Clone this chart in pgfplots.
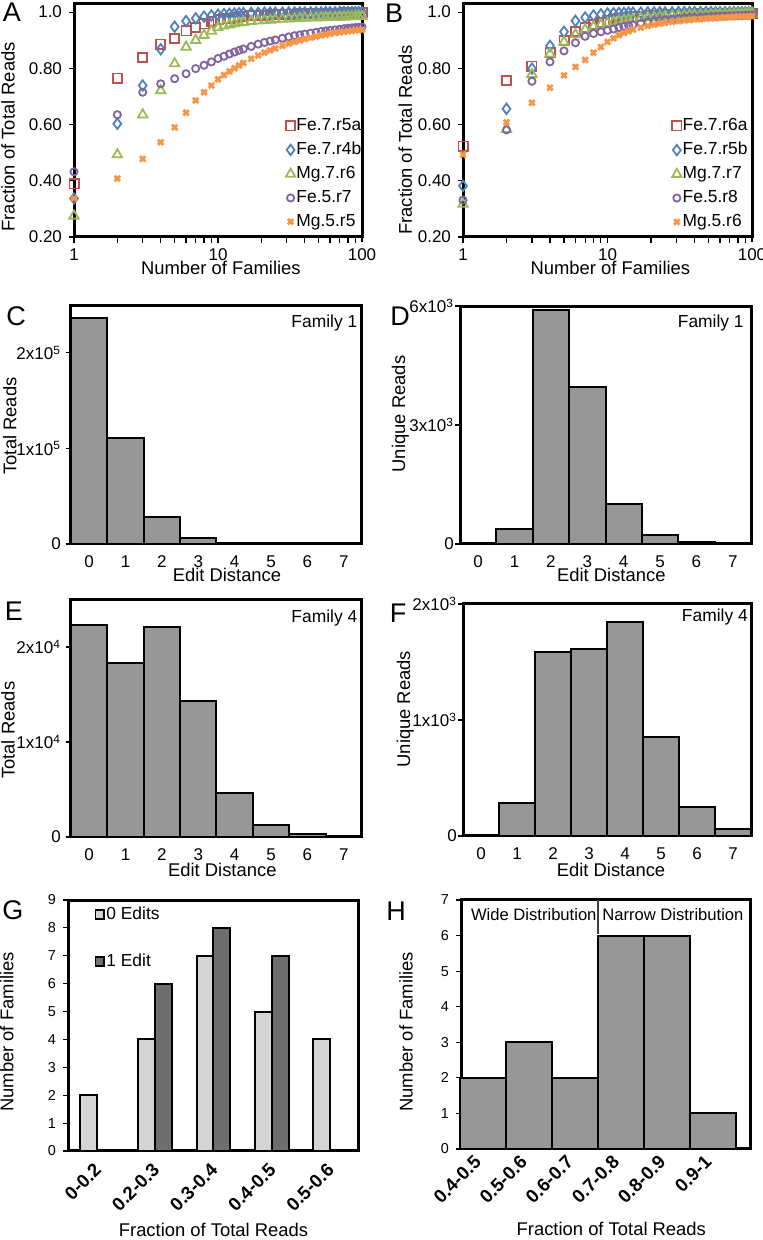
\documentclass[border=0pt]{standalone}
\usepackage{fontspec}
\setmainfont{Liberation Sans}
\usepackage{pgfplots}
\pgfplotsset{compat=1.18}
\usepackage{pgfplotstable}

\definecolor{exRed}{HTML}{C0504D}
\definecolor{exBlue}{HTML}{4F81BD}
\definecolor{exGreen}{HTML}{9BBB59}
\definecolor{exPurple}{HTML}{8064A2}
\definecolor{exOrange}{HTML}{F79646}
\definecolor{barGray}{RGB}{150,150,150}
\definecolor{lightBar}{RGB}{212,212,212}
\definecolor{darkBar}{RGB}{110,110,110}

% cumulative fraction of reads, panel A (n = number of families)
\pgfplotstableread{
n   r     b     g     p     o
1   0.389 0.337 0.275 0.432 0.337
2   0.765 0.603 0.493 0.635 0.408
3   0.838 0.739 0.635 0.715 0.478
4   0.886 0.868 0.721 0.745 0.537
5   0.906 0.948 0.817 0.763 0.590
6   0.933 0.968 0.876 0.781 0.642
7   0.945 0.978 0.900 0.799 0.686
8   0.958 0.984 0.918 0.811 0.715
9   0.966 0.988 0.933 0.823 0.739
10  0.972 0.991 0.945 0.835 0.761
11  0.976 0.993 0.951 0.843 0.776
12  0.979 0.994 0.955 0.851 0.789
13  0.981 0.995 0.959 0.858 0.800
14  0.983 0.996 0.962 0.864 0.810
15  0.985 0.996 0.964 0.869 0.819
17  0.987 0.997 0.967 0.878 0.834
19  0.988 0.997 0.969 0.886 0.846
21  0.989 0.998 0.971 0.892 0.856
23  0.990 0.998 0.972 0.897 0.864
25  0.991 0.998 0.974 0.901 0.871
28  0.992 0.998 0.975 0.907 0.880
31  0.993 0.999 0.976 0.912 0.888
34  0.993 0.999 0.977 0.916 0.894
37  0.994 0.999 0.978 0.919 0.899
40  0.994 0.999 0.979 0.922 0.904
44  0.995 0.999 0.980 0.925 0.909
48  0.995 0.999 0.980 0.928 0.913
52  0.995 0.999 0.981 0.931 0.917
56  0.996 1.000 0.981 0.933 0.920
60  0.996 1.000 0.982 0.935 0.923
65  0.996 1.000 0.982 0.937 0.926
70  0.996 1.000 0.983 0.939 0.928
75  0.997 1.000 0.983 0.941 0.930
80  0.997 1.000 0.984 0.943 0.932
85  0.997 1.000 0.984 0.944 0.934
90  0.997 1.000 0.984 0.945 0.935
95  0.997 1.000 0.985 0.946 0.936
100 0.997 1.000 0.985 0.947 0.937
}\tabA

% panel B
\pgfplotstableread{
n   r     b     g     p     o
1   0.523 0.382 0.317 0.331 0.493
2   0.757 0.656 0.583 0.581 0.608
3   0.808 0.799 0.779 0.754 0.677
4   0.856 0.880 0.852 0.823 0.731
5   0.898 0.930 0.894 0.862 0.775
6   0.930 0.969 0.920 0.891 0.805
7   0.945 0.981 0.938 0.914 0.830
8   0.955 0.988 0.948 0.924 0.856
9   0.963 0.992 0.955 0.930 0.876
10  0.969 0.995 0.961 0.935 0.894
11  0.973 0.996 0.965 0.940 0.907
12  0.977 0.997 0.969 0.945 0.918
13  0.979 0.997 0.972 0.949 0.926
14  0.981 0.998 0.974 0.952 0.932
15  0.983 0.998 0.976 0.955 0.938
17  0.985 0.998 0.979 0.960 0.945
19  0.987 0.999 0.981 0.964 0.951
21  0.988 0.999 0.983 0.967 0.955
23  0.989 0.999 0.984 0.970 0.959
25  0.990 0.999 0.985 0.972 0.962
28  0.991 0.999 0.987 0.975 0.965
31  0.992 1.000 0.988 0.977 0.968
34  0.992 1.000 0.989 0.979 0.970
37  0.993 1.000 0.990 0.980 0.972
40  0.993 1.000 0.990 0.981 0.974
44  0.994 1.000 0.991 0.982 0.975
48  0.994 1.000 0.991 0.983 0.977
52  0.994 1.000 0.992 0.984 0.978
56  0.995 1.000 0.992 0.985 0.979
60  0.995 1.000 0.993 0.986 0.980
65  0.995 1.000 0.993 0.986 0.981
70  0.995 1.000 0.993 0.987 0.982
75  0.996 1.000 0.994 0.987 0.983
80  0.996 1.000 0.994 0.988 0.984
85  0.996 1.000 0.994 0.988 0.984
90  0.996 1.000 0.995 0.989 0.985
95  0.996 1.000 0.995 0.989 0.985
100 0.996 1.000 0.995 0.990 0.986
}\tabB

\newcommand\tkfont{\fontsize{8.5}{10}\selectfont}
\newcommand\lbfont{\fontsize{9.2}{11}\selectfont}
\newcommand\lgfont{\fontsize{8.7}{9}\selectfont}
\newcommand\panelfont{\fontsize{13.5}{14}\selectfont}

\tikzset{fam/.style={font=\lgfont, anchor=east, inner sep=0pt}}

\pgfplotsset{
  panelbase/.style={
    scale only axis, anchor=south west, clip=false,
    axis line style={line width=1.5pt},
    tick align=outside, xtick pos=bottom, ytick pos=left,
    major tick length=2.5pt, tick style={black, line width=0.6pt},
    ticklabel style={font=\tkfont},
    label style={font=\lbfont},
    scaled y ticks=false,
  },
  cumpanel/.style={
    xmin=1, xmax=100, ymin=0.2, ymax=1.029,
    xtick={1,10,100}, xticklabels={1,10,100},
    ytick={0.2,0.4,0.6,0.8,1.0}, yticklabels={0.20,0.40,0.60,0.80,1.0},
    xlabel={Number of Families}, ylabel={Fraction of Total Reads},
    legend cell align=left,
    legend style={draw=none, fill=none, font=\lgfont, inner sep=0pt,
      row sep=3.2pt, nodes={inner sep=0.6pt}},
  },
  histpanel/.style={
    ybar, bar width=1, xmin=-0.5, xmax=7.5, ymin=0,
    xtick={0,...,7}, xticklabels={0,1,2,3,4,5,6,7},
    xtick style={draw=none}, xlabel={Edit Distance},
  },
  hbar/.style={fill=barGray, draw=black, line width=1pt},
  sR/.style={only marks, exRed, mark=square, mark size=2.3pt, line width=0.9pt},
  sB/.style={only marks, exBlue, mark=diamond, mark size=2.6pt, line width=0.9pt},
  sG/.style={only marks, exGreen, mark=triangle, mark size=2.7pt, line width=0.9pt},
  sP/.style={only marks, exPurple, mark=o, mark size=1.8pt, line width=0.9pt},
  sO/.style={only marks, exOrange, mark=x, mark size=1.9pt, line width=1.4pt},
}

\begin{document}
\begin{tikzpicture}
\useasboundingbox (0,0) rectangle (381pt,620pt);

% ---- A
\begin{axis}[xmode=log, panelbase, cumpanel, at={(37pt,501.5pt)}, width=144pt, height=116.5pt,
  ylabel style={at={(axis description cs:-0.229,0.43)}, anchor=center},
  xlabel style={at={(axis description cs:0.51,-0.133)}, anchor=center},
  legend image code/.code={\draw[#1] plot coordinates {(2pt,0pt)};},
  legend style={at={(rel axis cs:1.003,0.516)}, anchor=north east}]
\addplot[sR] table[x=n,y=r] {\tabA}; \addlegendentry{Fe.7.r5a}
\addplot[sB] table[x=n,y=b] {\tabA}; \addlegendentry{Fe.7.r4b}
\addplot[sG] table[x=n,y=g] {\tabA}; \addlegendentry{Mg.7.r6}
\addplot[sP] table[x=n,y=p] {\tabA}; \addlegendentry{Fe.5.r7}
\addplot[sO] table[x=n,y=o] {\tabA}; \addlegendentry{Mg.5.r5}
\end{axis}

% ---- B
\begin{axis}[xmode=log, panelbase, cumpanel, at={(231.5pt,501.5pt)}, width=144.5pt, height=116.5pt,
  ylabel style={at={(axis description cs:-0.20,0.416)}, anchor=center},
  xlabel style={at={(axis description cs:0.51,-0.133)}, anchor=center},
  legend image code/.code={\draw[#1] plot coordinates {(2pt,0pt)};},
  legend style={at={(rel axis cs:0.99,0.516)}, anchor=north east}]
\addplot[sR] table[x=n,y=r] {\tabB}; \addlegendentry{Fe.7.r6a}
\addplot[sB] table[x=n,y=b] {\tabB}; \addlegendentry{Fe.7.r5b}
\addplot[sG] table[x=n,y=g] {\tabB}; \addlegendentry{Mg.7.r7}
\addplot[sP] table[x=n,y=p] {\tabB}; \addlegendentry{Fe.5.r8}
\addplot[sO] table[x=n,y=o] {\tabB}; \addlegendentry{Mg.5.r6}
\end{axis}

% ---- C
\begin{axis}[panelbase, histpanel, at={(35.5pt,348pt)}, width=145.5pt, height=119pt,
  ymax=249000, ytick={0,100000,200000},
  yticklabels={0,1x10\textsuperscript{5},2x10\textsuperscript{5}},
  yticklabel style={xshift=1pt},
  ylabel={Total Reads},
  ylabel style={at={(axis description cs:-0.21,0.496)}, anchor=center},
  xlabel style={at={(axis description cs:0.536,-0.13)}, anchor=center}]
\addplot[hbar] coordinates {(0,236000)(1,111000)(2,28000)(3,6600)(4,1500)(5,500)(6,150)(7,50)};
\node[fam] at (rel axis cs:0.985,0.93) {Family 1};
\end{axis}

% ---- D
\begin{axis}[panelbase, histpanel, at={(230pt,348pt)}, width=145.5pt, height=119pt,
  ymax=6000, ytick={0,3000,6000},
  yticklabels={0,3x10\textsuperscript{3},6x10\textsuperscript{3}},
  yticklabel style={xshift=3pt},
  ylabel={Unique Reads},
  ylabel style={at={(axis description cs:-0.205,0.546)}, anchor=center},
  xlabel style={at={(axis description cs:0.52,-0.13)}, anchor=center}]
\addplot[hbar] coordinates {(1,380)(2,5900)(3,3960)(4,1010)(5,230)(6,60)(7,10)};
\node[fam] at (rel axis cs:0.976,0.93) {Family 1};
\end{axis}

% ---- E
\begin{axis}[panelbase, histpanel, at={(35.5pt,201.5pt)}, width=145.5pt, height=118.5pt,
  ymax=24950, ytick={0,10000,20000},
  yticklabels={0,1x10\textsuperscript{4},2x10\textsuperscript{4}},
  yticklabel style={xshift=1pt},
  ylabel={Total Reads},
  ylabel style={at={(axis description cs:-0.216,0.45)}, anchor=center},
  xlabel style={at={(axis description cs:0.52,-0.14)}, anchor=center}]
\addplot[hbar] coordinates {(0,22300)(1,18300)(2,22100)(3,14300)(4,4600)(5,1260)(6,300)(7,50)};
\node[fam] at (rel axis cs:0.985,0.924) {Family 4};
\end{axis}

% ---- F
\begin{axis}[panelbase, histpanel, at={(231.5pt,202pt)}, width=144pt, height=116pt,
  ymax=2000, ytick={0,1000,2000},
  yticklabels={0,1x10\textsuperscript{3},2x10\textsuperscript{3}},
  yticklabel style={xshift=3pt},
  ylabel={Unique Reads},
  ylabel style={at={(axis description cs:-0.2,0.547)}, anchor=center},
  xlabel style={at={(axis description cs:0.514,-0.147)}, anchor=center}]
\addplot[hbar] coordinates {(1,285)(2,1586)(3,1612)(4,1845)(5,853)(6,250)(7,60)};
\node[fam] at (rel axis cs:0.99,0.944) {Family 4};
\end{axis}

% ---- G
\begin{axis}[panelbase, at={(34pt,44.5pt)}, width=145.5pt, height=125.5pt,
  ybar, bar width=0.29, bar shift=0pt,
  xmin=-0.5, xmax=4.5, ymin=0, ymax=9,
  ytick={0,...,9}, yticklabels={0,1,2,3,4,5,6,7,8,9},
  yticklabel style={font=\fontsize{7.2}{8}\selectfont},
  xtick={0,...,4}, xticklabels={0-0.2,0.2-0.3,0.3-0.4,0.4-0.5,0.5-0.6},
  xtick style={draw=none},
  xticklabel style={font=\fontsize{9.3}{10}\selectfont\bfseries, rotate=45, anchor=east, yshift=-4pt},
  xlabel={Fraction of Total Reads}, ylabel={Number of Families},
  ylabel style={at={(axis description cs:-0.21,0.474)}, anchor=center},
  xlabel style={at={(axis description cs:0.50,-0.315)}, anchor=center},
  legend cell align=left,
  legend style={at={(rel axis cs:0.09,0.98)}, anchor=north west, draw=none,
    fill=none, font=\lgfont, inner sep=0pt, row sep=14.5pt,
    nodes={inner sep=0.6pt}},
  legend image code/.code={\draw[#1, line width=0.9pt] (0pt,-2.2pt) rectangle (4.4pt,2.2pt);}]
\addplot[fill=lightBar, draw=black, line width=1pt]
  coordinates {(-0.145,2)(0.855,4)(1.855,7)(2.855,5)(3.855,4)};
\addlegendentry{0 Edits}
\addplot[fill=darkBar, draw=black, line width=1pt]
  coordinates {(1.145,6)(2.145,8)(3.145,7)};
\addlegendentry{1 Edit}
\end{axis}

% ---- H
\begin{axis}[panelbase, at={(230.5pt,45.5pt)}, width=144.5pt, height=124.5pt,
  ybar, bar width=1, xmin=-0.47, xmax=5.8, ymin=0, ymax=7,
  ytick={0,...,7}, yticklabels={0,1,2,3,4,5,6,7},
  yticklabel style={font=\fontsize{7.2}{8}\selectfont},
  xtick={0,...,5}, xticklabels={0.4-0.5,0.5-0.6,0.6-0.7,0.7-0.8,0.8-0.9,0.9-1},
  xtick style={draw=none},
  xticklabel style={font=\fontsize{9.3}{10}\selectfont\bfseries, rotate=45, anchor=east, yshift=0pt},
  xlabel={Fraction of Total Reads}, ylabel={Number of Families},
  ylabel style={at={(axis description cs:-0.19,0.47)}, anchor=center},
  xlabel style={at={(axis description cs:0.52,-0.32)}, anchor=center}]
\addplot[hbar] coordinates {(0,2)(1,3)(2,2)(3,6)(4,6)(5,1)};
\draw[line width=1.2pt, black!75] (axis cs:2.5,7) -- (axis cs:2.5,6.05);
\node[font=\fontsize{8.3}{9}\selectfont, anchor=east, inner sep=0pt, xshift=-0.5pt]
  at (axis cs:2.5,6.59) {Wide Distribution};
\node[font=\fontsize{8.3}{9}\selectfont, anchor=west, inner sep=0pt, xshift=2pt]
  at (axis cs:2.5,6.59) {Narrow Distribution};
\end{axis}

% panel letters
\node[font=\panelfont, anchor=center] at (6pt,614pt) {A};
\node[font=\panelfont, anchor=center] at (197pt,613.5pt) {B};
\node[font=\panelfont, anchor=center] at (8pt,462pt) {C};
\node[font=\panelfont, anchor=center] at (200pt,462pt) {D};
\node[font=\panelfont, anchor=center] at (7pt,314.5pt) {E};
\node[font=\panelfont, anchor=center] at (199pt,313.5pt) {F};
\node[font=\panelfont, anchor=center] at (6.5pt,165pt) {G};
\node[font=\panelfont, anchor=center] at (198pt,164.5pt) {H};
\end{tikzpicture}
\end{document}
